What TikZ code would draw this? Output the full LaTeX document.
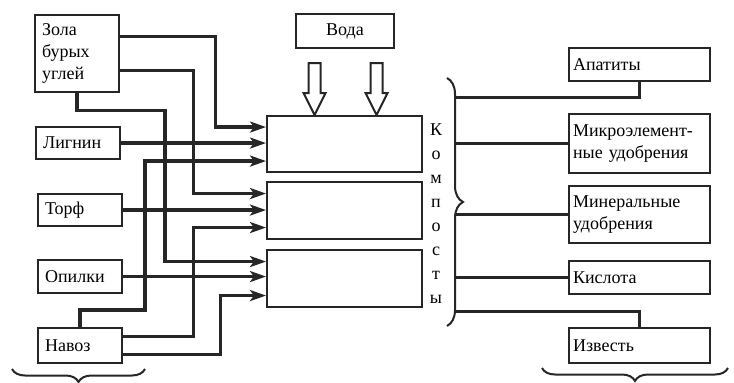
\documentclass[tikz,border=0pt]{standalone}
\usepackage{fontspec}
\setmainfont{Liberation Serif}
\usetikzlibrary{arrows.meta, decorations.pathreplacing}

\begin{document}
\begin{tikzpicture}[
  x=1pt, y=-1pt,
  font=\fontsize{18}{22}\selectfont,
  ink/.style={draw=black!85},
  box/.style={ink, line width=2.1pt, rectangle, anchor=north west, inner sep=0pt},
  srcbox/.style={box, minimum width=84pt, inner xsep=7pt, text width=70pt, align=left},
  dstbox/.style={box, minimum width=141pt, inner xsep=4pt, text width=133pt, align=left},
  mixbox/.style={box, minimum width=155pt},
  feed/.style={ink, line width=3.2pt, -{Stealth[length=16pt, width=11pt, inset=4pt]}},
  link/.style={ink, line width=3pt},
  hollow/.style={ink, line width=2pt, fill=white, line join=miter},
  curly/.style={ink, line width=2pt, decorate},
]
  \useasboundingbox (0,0) rectangle (734,383);

  % --- Raw materials ---
  \node[srcbox, minimum height=77pt] (zola) at (34,14) {Зола\\бурых\\углей};
  \node[srcbox, minimum height=32pt] (lignin) at (35,126) {Лигнин};
  \node[srcbox, minimum height=32pt] (torf) at (37,193) {Торф};
  \node[srcbox, minimum height=33pt] (opilki) at (37,259) {Опилки};
  \node[srcbox, minimum height=35pt] (navoz) at (37,327) {Навоз};

  % --- Water and mixing ---
  \node[box, minimum width=98pt, minimum height=34pt] (voda) at (295,13) {Вода};
  \node[mixbox, minimum height=56pt] (k1) at (266,115) {};
  \node[mixbox, minimum height=57pt] (k2) at (266,181) {};
  \node[mixbox, minimum height=57pt] (k3) at (266,249) {};
  \node[font=\fontsize{18}{24}\selectfont, align=center] (kompost) at (436,214)
    {К\\о\\м\\п\\о\\с\\т\\ы};

  \foreach \dx in {-30,32}
    \draw[hollow] ([xshift=\dx pt]k1.north) -- ++(-11,-22) -- ++(5,0) -- ++(0,-30)
      -- ++(12,0) -- ++(0,30) -- ++(5,0) -- cycle;

  % --- Additives ---
  \node[dstbox, minimum height=33pt] (apat) at (568,47) {Апатиты};
  \node[dstbox, minimum height=59pt] (micro) at (568,113) {Микроэлемент-\\ные удобрения};
  \node[dstbox, minimum height=57pt] (miner) at (568,185) {Минеральные\\удобрения};
  \node[dstbox, minimum height=33pt] (kisl) at (568,260) {Кислота};
  \node[dstbox, minimum height=35pt] (izv) at (568,327) {Известь};

  % --- Feed lines into the mixes ---
  \draw[feed] ([yshift=17pt]zola.east) -- ++(95,0) |- ([yshift=17pt]k1.west);
  \draw[feed] (lignin.east) -- (lignin.east -| k1.west);
  \draw[feed] (navoz.north) |- ++(65,-17) |- ([yshift=-17pt]k1.west);

  \draw[feed] ([yshift=-17pt]zola.east) -- ++(73,0) |- ([yshift=17pt]k2.west);
  \draw[feed] (torf.east) -- (torf.east -| k2.west);
  \draw[feed] ([yshift=9pt]navoz.east) -- ++(70,0) |- ([yshift=-17pt]k2.west);

  \draw[feed] (zola.south) |- ++(88,17) |- ([yshift=17pt]k3.west);
  \draw[feed] (opilki.east) -- (opilki.east -| k3.west);
  \draw[feed] ([yshift=-9pt]navoz.east) -- ++(97,0) |- ([yshift=-17pt]k3.west);

  % --- Brace and additive links ---
  \draw[curly, decoration={brace, amplitude=16pt}] (447,78) -- (447,326);
  \coordinate (bx) at (455,200);
  \coordinate (b1) at (455,97);
  \coordinate (b5) at (455,311);
  \draw[link] (apat.south) |- (b1);
  \draw[link] (micro.west) -- (micro.west -| bx);
  \draw[link] (miner.west) -- (miner.west -| bx);
  \draw[link] (kisl.west) -- (kisl.west -| bx);
  \draw[link] (izv.north) |- (b5);

  % bottom braces (labels below are cut off)
  \draw[curly, decoration={brace, amplitude=13pt}] (145,369) -- (12,369);
  \draw[curly, decoration={brace, amplitude=13pt}] (728,368) -- (542,368);

\end{tikzpicture}
\end{document}
